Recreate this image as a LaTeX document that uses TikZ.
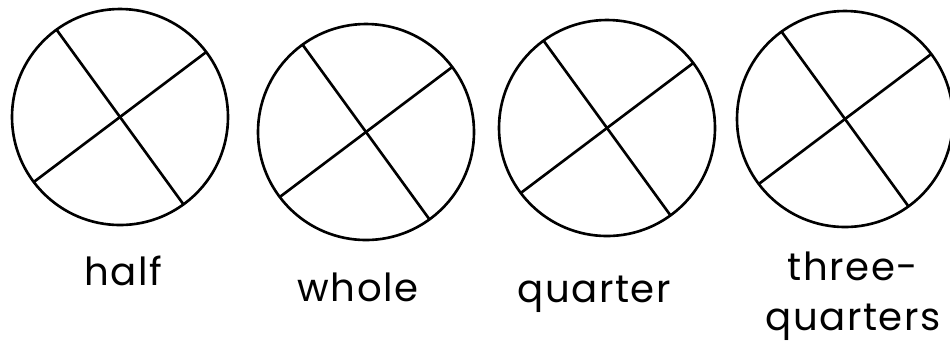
\documentclass[tikz,border=0pt]{standalone}
\usepackage{fontspec}
\setmainfont{Poppins}
\newfontfamily\labelfont[LetterSpace=4]{Poppins}

\tikzset{
  disc/.style={draw, circle, line width=0.75pt, minimum size=2.16cm, inner sep=0pt, outer sep=0pt},
  cut/.style={line width=0.75pt},
  word/.style={font=\labelfont\fontsize{11}{14.2}\selectfont, anchor=base, align=center, inner sep=0pt}
}

\begin{document}
\begin{tikzpicture}
\useasboundingbox (0,0) rectangle (9.5,3.45);

% the four circles, each cut into quarters
\foreach \n/\x/\y in {1/1.20/2.28, 2/3.66/2.13, 3/6.07/2.17, 4/8.45/2.26} {
  \node[disc] (c\n) at (\x,\y) {};
  \draw[cut] (c\n.126) -- (c\n.306);
  \draw[cut] (c\n.37) -- (c\n.217);
}

% labels
\node[word] (half) at (1.23,0.60) {half};
\node[word] (whole) at (3.58,0.44) {whole};
\node[word] (quarter) at (5.94,0.43) {quarter};
\node[word] (three) at (8.53,0.15) {three-\\quarters};

\end{tikzpicture}
\end{document}
